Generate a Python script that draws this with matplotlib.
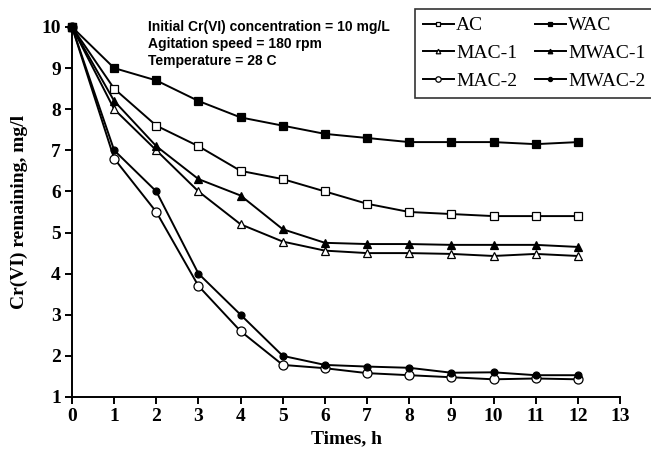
import matplotlib
matplotlib.use("Agg")
import matplotlib.pyplot as plt

times = [0, 1, 2, 3, 4, 5, 6, 7, 8, 9, 10, 11, 12]
ac = [10, 8.5, 7.6, 7.1, 6.5, 6.3, 6.0, 5.7, 5.5, 5.45, 5.4, 5.4, 5.4]
wac = [10, 9.0, 8.7, 8.2, 7.8, 7.6, 7.4, 7.3, 7.2, 7.2, 7.2, 7.15, 7.2]
mac1 = [10, 8.0, 7.0, 6.0, 5.2, 4.78, 4.56, 4.5, 4.5, 4.48, 4.43, 4.48, 4.43]
mwac1 = [10, 8.2, 7.1, 6.3, 5.9, 5.08, 4.75, 4.72, 4.72, 4.7, 4.7, 4.7, 4.65]
mac2 = [10, 6.8, 5.5, 3.7, 2.6, 1.78, 1.7, 1.58, 1.53, 1.48, 1.43, 1.45, 1.43]
mwac2 = [10, 7.0, 6.0, 4.0, 3.0, 2.0, 1.78, 1.74, 1.71, 1.59, 1.6, 1.53, 1.53]

notes = ["Initial Cr(VI) concentration = 10 mg/L",
         "Agitation speed = 180 rpm",
         "Temperature = 28 C"]

serif = ["Liberation Serif", "DejaVu Serif"]

fig = plt.figure(figsize=(6.51, 4.55), dpi=100)
ax = fig.add_axes([0.1106, 0.1275, 0.8418, 0.8132])

series = [
    (ac, "s", "white", "AC"),
    (mac1, "^", "white", "MAC-1"),
    (mac2, "o", "white", "MAC-2"),
    (wac, "s", "black", "WAC"),
    (mwac1, "^", "black", "MWAC-1"),
    (mwac2, "o", "black", "MWAC-2"),
]
for vals, mk, fc, lab in series:
    ms = 6.5 if mk == "o" else 5.5
    if fc == "black" and mk == "o":
        ms = 5
    ax.plot(times, vals, color="black", lw=1.4, marker=mk, ms=ms,
            mfc=fc, mec="black", mew=0.9, label=lab, clip_on=False, zorder=3)

ax.set_xlim(0, 13)
ax.set_ylim(1, 10)
ax.set_xticks(range(0, 14))
ax.set_yticks(range(1, 11))
for s in ["top", "right"]:
    ax.spines[s].set_visible(False)
for s in ["left", "bottom"]:
    ax.spines[s].set_linewidth(1.4)
ax.tick_params(direction="out", length=5, width=1.4, pad=3)
for lbl in ax.get_xticklabels() + ax.get_yticklabels():
    lbl.set_fontfamily(serif)
    lbl.set_fontweight("bold")
    lbl.set_fontsize(14)

ax.set_xlabel("Times, h", family=serif, fontweight="bold", fontsize=14, labelpad=4)
ax.set_ylabel("Cr(VI) remaining, mg/l", family=serif, fontweight="bold",
              fontsize=14, labelpad=10)

for k, line in enumerate(notes):
    fig.text(148 / 651, 1 - (27 + 17 * k) / 455, line, family=["Liberation Sans", "DejaVu Sans"],
             fontweight="bold", fontsize=10, va="center", ha="left")

leg = fig.legend(loc="upper left", bbox_to_anchor=(415 / 651, 1 - 9 / 455), ncol=2,
                 prop={"family": serif, "size": 14}, frameon=True, fancybox=False,
                 edgecolor="black", handlelength=1.6, handletextpad=0.12,
                 columnspacing=0.9, labelspacing=0.52, borderpad=0.4,
                 borderaxespad=0, markerscale=0.6)
leg.get_frame().set_linewidth(1.2)

fig.savefig("out.png", dpi=100)
